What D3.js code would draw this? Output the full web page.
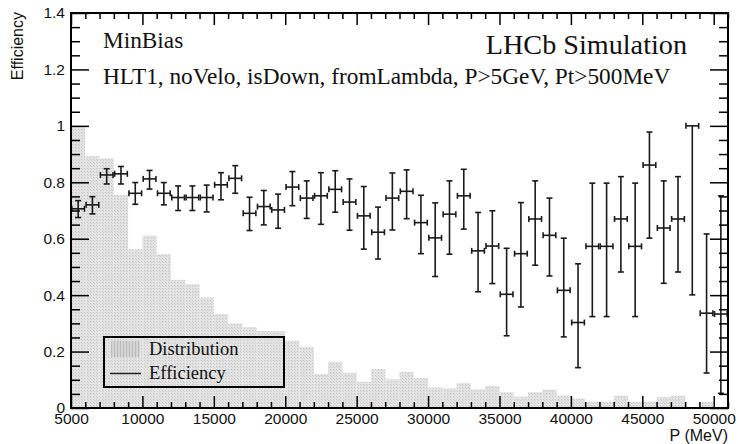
<!DOCTYPE html>
<html><head><meta charset="utf-8">
<script src="https://cdn.jsdelivr.net/npm/d3@7"></script>
<style>body{margin:0;background:#fff}</style>
</head><body><svg id="c" width="738" height="444"></svg>
<script>
// ---- data ----
const binCenters=[5500,6500,7500,8500,9500,10500,11500,12500,13500,14500,15500,16500,17500,18500,19500,20500,21500,22500,23500,24500,25500,26500,27500,28500,29500,30500,31500,32500,33500,34500,35500,36500,37500,38500,39500,40500,41500,42500,43500,44500,45500,46500,47500,48500,49500,50500];
const binHalfWidth=500;
const distribution=[1.0,0.893,0.885,0.755,0.563,0.611,0.546,0.454,0.439,0.392,0.333,0.300,0.286,0.273,0.273,0.239,0.217,0.121,0.164,0.125,0.093,0.138,0.102,0.128,0.107,0.073,0.070,0.089,0.066,0.078,0.056,0.040,0.056,0.065,0.044,0.034,0.022,0.022,0.044,0.022,0.022,0.039,0.044,0,0.022,0];
const efficiency=[0.706,0.720,0.826,0.830,0.761,0.812,0.761,0.746,0.746,0.746,0.791,0.814,0.690,0.714,0.702,0.783,0.744,0.752,0.775,0.730,0.681,0.623,0.744,0.768,0.657,0.603,0.687,0.752,0.557,0.574,0.403,0.547,0.670,0.612,0.417,0.303,0.573,0.573,0.670,0.573,0.861,0.638,0.670,1.0,0.336,0.333];
const effHigh=[0.735,0.749,0.848,0.856,0.799,0.842,0.799,0.787,0.787,0.790,0.834,0.859,0.747,0.771,0.758,0.838,0.805,0.834,0.841,0.812,0.785,0.712,0.833,0.844,0.754,0.727,0.805,0.846,0.693,0.699,0.566,0.728,0.805,0.744,0.602,0.511,0.797,0.797,0.820,0.797,0.978,0.805,0.820,1.0,0.617,0.752];
const effLow=[0.675,0.688,0.794,0.794,0.722,0.776,0.720,0.700,0.700,0.695,0.738,0.761,0.629,0.649,0.637,0.717,0.672,0.651,0.694,0.630,0.563,0.528,0.631,0.671,0.547,0.466,0.545,0.634,0.412,0.441,0.256,0.358,0.506,0.468,0.252,0.143,0.324,0.324,0.482,0.324,0.602,0.442,0.482,0.401,0.124,0.052];
const xMajorTicks=[5000,10000,15000,20000,25000,30000,35000,40000,45000,50000];
const xMinorTicks=[6000,7000,8000,9000,11000,12000,13000,14000,16000,17000,18000,19000,21000,22000,23000,24000,26000,27000,28000,29000,31000,32000,33000,34000,36000,37000,38000,39000,41000,42000,43000,44000,46000,47000,48000,49000,51000];
const yMajorTicks=[0,0.2,0.4,0.6,0.8,1.0,1.2,1.4];
const yMinorTicks=[0.05,0.1,0.15,0.25,0.3,0.35,0.45,0.5,0.55,0.65,0.7,0.75,0.85,0.9,0.95,1.05,1.1,1.15,1.25,1.3,1.35];
const legendItems=["Distribution","Efficiency"];

// ---- layout ----
const W=738,H=444;
const m={l:71,t:13,r:10,b:36};
const SANS='"Liberation Sans", Arial, sans-serif';
const SERIF='"Liberation Serif", "Times New Roman", serif';
const x=d3.scaleLinear().domain([5000,51000]).range([m.l,W-m.r]);
const y=d3.scaleLinear().domain([0,1.4]).range([H-m.b,m.t]);
const svg=d3.select("#c");

const defs=svg.append("defs");
const pat=defs.append("pattern").attr("id","dots").attr("width",3).attr("height",3).attr("patternUnits","userSpaceOnUse");
pat.append("rect").attr("width",3).attr("height",3).attr("fill","#e4e4e4");
pat.append("rect").attr("x",0).attr("y",0).attr("width",1).attr("height",1).attr("fill","#c4c4c4");
pat.append("rect").attr("x",1).attr("y",1).attr("width",1).attr("height",1).attr("fill","#cecece");
const pat2=defs.append("pattern").attr("id","dots2").attr("width",3).attr("height",3).attr("patternUnits","userSpaceOnUse");
pat2.append("rect").attr("width",3).attr("height",3).attr("fill","#d4d4d4");
pat2.append("rect").attr("x",0).attr("y",0).attr("width",1).attr("height",3).attr("fill","#bcbcbc");

// histogram
svg.append("g").selectAll("rect").data(binCenters).join("rect")
  .attr("x",d=>x(d-binHalfWidth))
  .attr("width",d=>x(d+binHalfWidth)-x(d-binHalfWidth))
  .attr("y",(d,i)=>y(distribution[i]))
  .attr("height",(d,i)=>y(0)-y(distribution[i]))
  .attr("fill","url(#dots)");

// legend
const lg=svg.append("g");
lg.append("rect").attr("x",104).attr("y",337).attr("width",180).attr("height",50)
  .attr("fill","none").attr("stroke","#000").attr("stroke-width",2);
lg.append("rect").attr("x",111).attr("y",341).attr("width",29).attr("height",16).attr("fill","url(#dots2)");
lg.append("line").attr("x1",110).attr("x2",141).attr("y1",373.5).attr("y2",373.5).attr("stroke","#222").attr("stroke-width",1.5);
lg.selectAll("text").data(legendItems).join("text")
  .attr("x",149).attr("y",(d,i)=>354.5+i*24.5)
  .attr("font-family",SERIF).attr("font-size",18.5).attr("fill","#111").text(d=>d);

// efficiency error bars
const cap=3;
const eg=svg.append("g").attr("stroke","#1a1a1a").attr("stroke-width",1.6).attr("fill","none");
binCenters.forEach((c,i)=>{
  const xl=x(c-binHalfWidth), xr=x(c+binHalfWidth), xc=x(c);
  const yv=y(efficiency[i]), yh=y(effHigh[i]), yl=y(effLow[i]);
  eg.append("line").attr("x1",xl+0.8).attr("x2",xr-0.8).attr("y1",yv).attr("y2",yv);
  eg.append("line").attr("x1",xl+0.8).attr("x2",xl+0.8).attr("y1",yv-cap).attr("y2",yv+cap);
  eg.append("line").attr("x1",xr-0.8).attr("x2",xr-0.8).attr("y1",yv-cap).attr("y2",yv+cap);
  eg.append("line").attr("x1",xc).attr("x2",xc).attr("y1",yh).attr("y2",yl);
  if(Math.abs(yh-yv)>0.5) eg.append("line").attr("x1",xc-cap).attr("x2",xc+cap).attr("y1",yh).attr("y2",yh);
  if(Math.abs(yl-yv)>0.5) eg.append("line").attr("x1",xc-cap).attr("x2",xc+cap).attr("y1",yl).attr("y2",yl);
});

// axes
function styleAxis(g){g.select(".domain").remove();g.selectAll("line").attr("stroke","#000").attr("stroke-width",1.5);
  g.selectAll("text").attr("font-family",SANS).attr("font-size",15.5).attr("fill","#111");}
svg.append("g").attr("transform",`translate(0,${y(0)})`)
  .call(d3.axisBottom(x).tickValues(xMajorTicks).tickSize(-12).tickPadding(5).tickFormat(d3.format("d"))).call(styleAxis);
svg.append("g").attr("transform",`translate(0,${y(0)})`)
  .call(d3.axisBottom(x).tickValues(xMinorTicks).tickSize(-6).tickFormat("")).call(styleAxis);
svg.append("g").attr("transform",`translate(0,${y(1.4)})`)
  .call(d3.axisTop(x).tickValues(xMajorTicks).tickSize(-12).tickFormat("")).call(styleAxis);
svg.append("g").attr("transform",`translate(0,${y(1.4)})`)
  .call(d3.axisTop(x).tickValues(xMinorTicks).tickSize(-6).tickFormat("")).call(styleAxis);
svg.append("g").attr("transform",`translate(${x(5000)},0)`)
  .call(d3.axisLeft(y).tickValues(yMajorTicks).tickSize(-18).tickPadding(6).tickFormat(d=>d3.format("")(+d.toFixed(1)))).call(styleAxis);
svg.append("g").attr("transform",`translate(${x(5000)},0)`)
  .call(d3.axisLeft(y).tickValues(yMinorTicks).tickSize(-9).tickFormat("")).call(styleAxis);
svg.append("g").attr("transform",`translate(${x(51000)},0)`)
  .call(d3.axisRight(y).tickValues(yMajorTicks).tickSize(-18).tickFormat("")).call(styleAxis);
svg.append("g").attr("transform",`translate(${x(51000)},0)`)
  .call(d3.axisRight(y).tickValues(yMinorTicks).tickSize(-9).tickFormat("")).call(styleAxis);

// frame
svg.append("rect").attr("x",x(5000)).attr("y",y(1.4)).attr("width",x(51000)-x(5000)).attr("height",y(0)-y(1.4))
  .attr("fill","none").attr("stroke","#000").attr("stroke-width",2);

// titles
svg.append("text").attr("transform","translate(23,12) rotate(-90)").attr("text-anchor","end")
  .attr("font-family",SANS).attr("font-size",16).attr("fill","#111").text("Efficiency");
svg.append("text").attr("x",728).attr("y",441).attr("text-anchor","end")
  .attr("font-family",SANS).attr("font-size",16).attr("fill","#111").text("P (MeV)");
svg.append("text").attr("x",103).attr("y",48).attr("font-family",SERIF).attr("font-size",23.3).attr("fill","#111").text("MinBias");
svg.append("text").attr("x",103).attr("y",84).attr("font-family",SERIF).attr("font-size",23.3).attr("fill","#111").text("HLT1, noVelo, isDown, fromLambda, P>5GeV, Pt>500MeV");
svg.append("text").attr("x",687).attr("y",54).attr("text-anchor","end").attr("font-family",SERIF).attr("font-size",28.2).attr("fill","#111").text("LHCb Simulation");
</script></body></html>
